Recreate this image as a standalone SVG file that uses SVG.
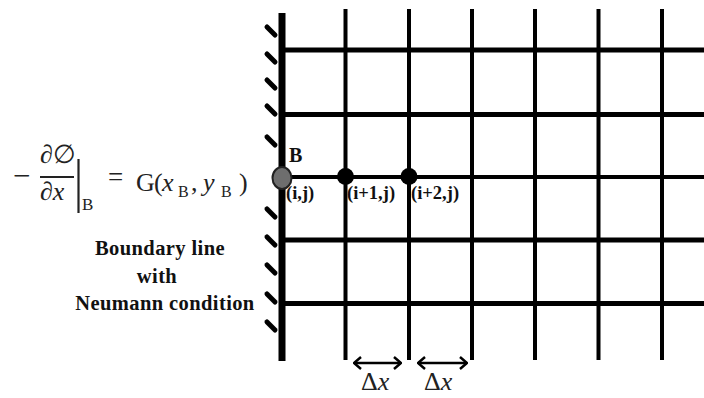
<svg xmlns="http://www.w3.org/2000/svg" width="704" height="398" viewBox="0 0 704 398">
<style>
.grid line{stroke:#000;stroke-linecap:butt}
.h{stroke-width:5}
.v{stroke-width:4}
.hatch line{stroke:#000;stroke-width:5;stroke-linecap:round}
.lbl{font-family:'Liberation Serif','Times New Roman','DejaVu Serif',serif;font-weight:bold;fill:#111}
.math{font-family:'Liberation Serif','Times New Roman','DejaVu Serif',serif;fill:#222}
.it{font-style:italic}
.dim{stroke:#000;stroke-width:2.5;fill:none}
.blk{font-size:20.5px;letter-spacing:0.4px}
</style>
<defs>
<marker id="chev" viewBox="0 0 10 14" refX="9" refY="7" markerWidth="10" markerHeight="14" markerUnits="userSpaceOnUse" orient="auto-start-reverse">
<path d="M2,1 L9,7 L2,13" fill="none" stroke="#000" stroke-width="2.5"/>
</marker>
</defs>
<rect width="704" height="398" fill="#fff"/>
<g id="connectors" class="grid">
<line class="h" x1="282" y1="50" x2="704" y2="50"/>
<line class="h" x1="282" y1="114.5" x2="704" y2="114.5"/>
<line class="h" x1="282" y1="177" x2="704" y2="177" style="stroke-width:4"/>
<line class="h" x1="282" y1="240" x2="704" y2="240"/>
<line class="h" x1="282" y1="303.5" x2="704" y2="303.5"/>
<line class="v" x1="345.5" y1="9" x2="345.5" y2="360"/>
<line class="v" x1="409" y1="9" x2="409" y2="360"/>
<line class="v" x1="472" y1="9" x2="472" y2="360"/>
<line class="v" x1="535" y1="9" x2="535" y2="360"/>
<line class="v" x1="598.5" y1="9" x2="598.5" y2="360"/>
<line class="v" x1="662" y1="9" x2="662" y2="360"/>
</g>
<g id="boundary">
<line x1="282" y1="13" x2="282" y2="361" stroke="#000" stroke-width="7"/>
<g class="hatch">
<line x1="267" y1="27" x2="275" y2="35"/>
<line x1="267" y1="54" x2="275" y2="62"/>
<line x1="267" y1="80" x2="275" y2="88"/>
<line x1="267" y1="106" x2="275" y2="114"/>
<line x1="267" y1="137" x2="275" y2="145"/>
<line x1="267" y1="209" x2="275" y2="217"/>
<line x1="267" y1="237" x2="275" y2="245"/>
<line x1="267" y1="265" x2="275" y2="273"/>
<line x1="267" y1="294" x2="275" y2="302"/>
<line x1="267" y1="322" x2="275" y2="330"/>
</g>
</g>
<g id="boundary-label">
<text class="lbl blk" x="160" y="255" text-anchor="middle">Boundary line</text>
<text class="lbl blk" x="157" y="283" text-anchor="middle">with</text>
<text class="lbl blk" x="165" y="310" text-anchor="middle">Neumann condition</text>
</g>
<g id="node-B">
<ellipse cx="282" cy="178" rx="9.5" ry="11" fill="#6e6e6e" stroke="#222" stroke-width="2"/>
<text class="lbl" x="289" y="162" font-size="20">B</text>
<text class="lbl" x="286" y="199" font-size="18.5">(i,j)</text>
</g>
<g id="node-i1">
<circle cx="345.5" cy="176.5" r="8.5" fill="#000"/>
<text class="lbl" x="347" y="199" font-size="18.5">(i+1,j)</text>
</g>
<g id="node-i2">
<circle cx="409" cy="176.5" r="8.5" fill="#000"/>
<text class="lbl" x="411" y="199" font-size="18.5">(i+2,j)</text>
</g>
<g id="equation" class="math">
<text x="13" y="186" font-size="31">−</text>
<text x="40" y="163" font-size="26">∂∅</text>
<line x1="40" y1="177" x2="74" y2="177" stroke="#222" stroke-width="1.8"/>
<text x="40" y="200" font-size="26">∂<tspan class="it">x</tspan></text>
<line x1="78.5" y1="159" x2="78.5" y2="213" stroke="#222" stroke-width="2.2"/>
<text x="82" y="210" font-size="17">B</text>
<text x="108" y="186" font-size="27">=</text>
<text y="191" font-size="26"><tspan x="136">G</tspan><tspan x="154">(</tspan><tspan class="it" x="162">x</tspan><tspan x="178" dy="6" font-size="16">B</tspan><tspan x="191" dy="-6">,</tspan><tspan class="it" x="203">y</tspan><tspan x="221" dy="6" font-size="16">B</tspan><tspan x="239" dy="-6">)</tspan></text>
</g>
<g id="dx1">
<line class="dim" x1="354" y1="363" x2="401" y2="363" marker-start="url(#chev)" marker-end="url(#chev)"/>
<text class="math" x="361" y="390" font-size="26">Δ<tspan class="it">x</tspan></text>
</g>
<g id="dx2">
<line class="dim" x1="418" y1="363" x2="467" y2="363" marker-start="url(#chev)" marker-end="url(#chev)"/>
<text class="math" x="424" y="390" font-size="26">Δ<tspan class="it">x</tspan></text>
</g>
</svg>
